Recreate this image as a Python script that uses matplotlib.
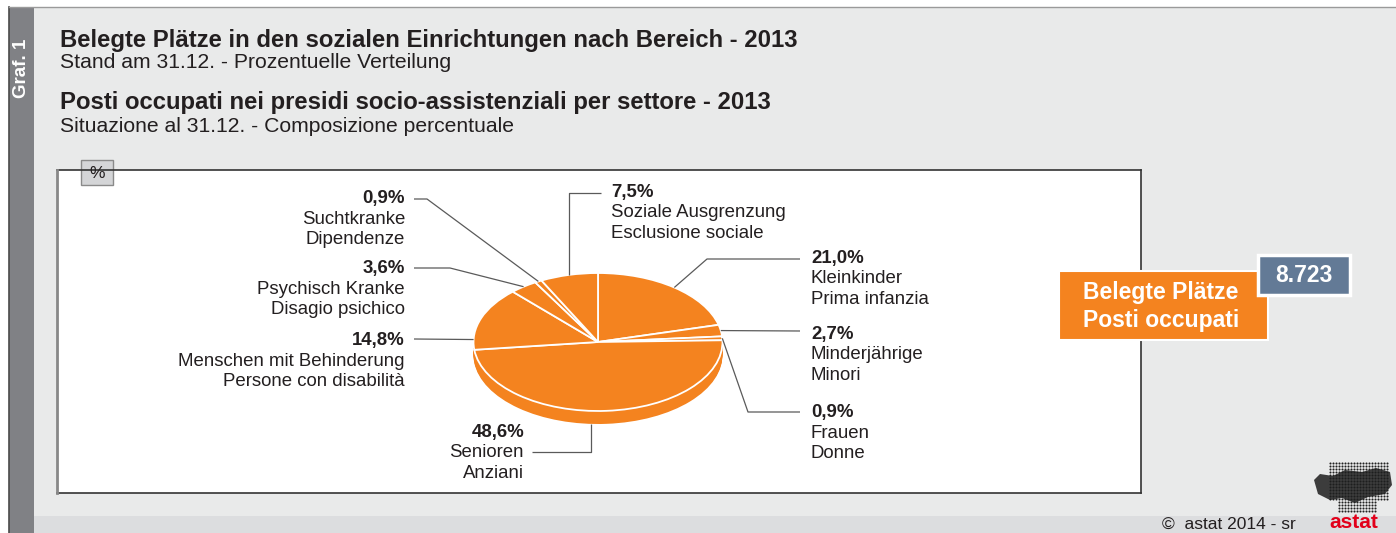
import numpy as np
import matplotlib
matplotlib.use('Agg')
import matplotlib.pyplot as plt
from matplotlib.patches import Rectangle, Polygon

plt.rcParams['font.family'] = ['Liberation Sans', 'DejaVu Sans']

# data
pct = [21.0, 2.7, 0.9, 48.6, 14.8, 3.6, 0.9, 7.5]
names_de = ['Kleinkinder', 'Minderjährige', 'Frauen', 'Senioren',
            'Menschen mit Behinderung', 'Psychisch Kranke', 'Suchtkranke',
            'Soziale Ausgrenzung']
names_it = ['Prima infanzia', 'Minori', 'Donne', 'Anziani',
            'Persone con disabilità', 'Disagio psichico', 'Dipendenze',
            'Esclusione sociale']
total_places = 8723

# layout (pixels, origin top left)
W, H = 1396, 533
cx, cy = 598, 342          # pie centre
ra, rb = 124.5, 69         # ellipse semi axes
depth = 13                 # pie thickness
ORANGE = '#F4831F'
TXT = '#231F20'
LEAD = '#5a5a5a'

# per label: text x, text y, alignment, elbow points, position inside wedge, from side bottom
lab_x = [811, 811, 811, 524, 405, 405, 405, 611]
lab_y = [258, 334, 413, 432, 341, 269, 199, 192]
lab_ha = ['left', 'left', 'left', 'right', 'right', 'right', 'right', 'left']
lab_path = [[(707, 259), (800, 259)],
            [(800, 331)],
            [(748, 412), (800, 412)],
            [(None, 452), (532, 452)],
            [(414, 339)],
            [(450, 268), (414, 268)],
            [(427, 199), (414, 199)],
            [(None, 193), (601, 193)]]
lab_frac = [0.5, 0.5, 0.5, 0.54, 0.16, 0.5, 0.5, 0.5]
lab_side = [False, False, False, True, False, False, False, False]

fig = plt.figure(figsize=(W / 100, H / 100), dpi=100)
fig.patch.set_facecolor('white')

bg = fig.add_axes([0, 0, 1, 1])
bg.set_xlim(0, W)
bg.set_ylim(H, 0)
bg.axis('off')

# frame and background
bg.add_patch(Rectangle((34, 7), W - 34, 509, fc='#E9EAEA', ec='none'))
bg.add_patch(Rectangle((34, 516), W - 34, 17, fc='#DCDDDF', ec='none'))
bg.add_patch(Rectangle((9, 7), 25, H - 7, fc='#808185', ec='none'))
bg.plot([9, 9], [7, H], color='#4a4a4a', lw=1.2)
bg.plot([9, W], [7, 7], color='#9a9a9a', lw=1)
bg.text(21, 68, 'Graf. 1', rotation=90, ha='center', va='center',
        color='white', fontsize=13.5, fontweight='bold')

# titles
bg.text(60, 40, 'Belegte Plätze in den sozialen Einrichtungen nach Bereich - 2013',
        fontsize=17.2, fontweight='bold', color=TXT, va='center')
bg.text(60, 63, 'Stand am 31.12. - Prozentuelle Verteilung',
        fontsize=15.2, color=TXT, va='center')
bg.text(60, 102, 'Posti occupati nei presidi socio-assistenziali per settore - 2013',
        fontsize=17.2, fontweight='bold', color=TXT, va='center')
bg.text(60, 127, 'Situazione al 31.12. - Composizione percentuale',
        fontsize=15.2, color=TXT, va='center')

# white chart panel
bg.add_patch(Rectangle((57, 170), 1084, 323, fc='white', ec='none'))
bg.plot([57, 1141], [170, 170], color='#333333', lw=1.2)
bg.plot([57, 1141], [493, 493], color='#333333', lw=1.2)
bg.plot([57, 57], [170, 493], color='#888888', lw=2)
bg.plot([1141, 1141], [170, 493], color='#333333', lw=1.2)
bg.add_patch(Rectangle((81, 160), 32, 25, fc='#D4D5D7', ec='#8a8a8a', lw=1))
bg.text(97, 173, '%', ha='center', va='center', fontsize=12.5, color=TXT)

# total boxes
bg.add_patch(Rectangle((1059, 271), 209, 69, fc=ORANGE, ec='white', lw=1.5, zorder=3))
bg.text(1161, 293, 'Belegte Plätze', ha='center', va='center', color='white',
        fontsize=16.5, fontweight='bold', zorder=4)
bg.text(1161, 321, 'Posti occupati', ha='center', va='center', color='white',
        fontsize=16.5, fontweight='bold', zorder=4)
bg.add_patch(Rectangle((1258, 255), 92, 40, fc='#637A96', ec='white', lw=2.5, zorder=5))
bg.text(1304, 275, f'{total_places:,}'.replace(',', '.'), ha='center', va='center',
        color='white', fontsize=16.5, fontweight='bold', zorder=6)

# footer
bg.text(1296, 524, '©  astat 2014 - sr', ha='right', va='center', fontsize=12.5, color=TXT)
bg.text(1354, 523, 'astat', ha='center', va='center', fontsize=15, fontweight='bold',
        color='#E2001A')
gx, gy = np.meshgrid(np.arange(1330, 1388, 3.0), np.arange(463, 512, 3.0))
gx, gy = gx.ravel(), gy.ravel()
inside = (gy < 473) | (gy > 500) & (gx > 1336) & (gx < 1378) | (gy >= 473) & (gy <= 500)
bg.scatter(gx[inside], gy[inside], s=2.2, color='#222222', lw=0)
bg.add_patch(Polygon([(1314, 480), (1320, 474), (1333, 476), (1345, 470), (1362, 472),
                      (1376, 468), (1390, 472), (1392, 485), (1385, 494), (1368, 497),
                      (1355, 503), (1342, 498), (1330, 500), (1318, 494)],
                     fc='#1e1e1e', ec='none', alpha=0.85))

# pie (pie units: 1 = semi axis)
pax = fig.add_axes([0, 0, 1, 1])
pax.patch.set_alpha(0)
d = depth / rb
for k in np.linspace(d, 0.0, 14):
    pax.pie(pct, startangle=90, counterclock=False, colors=[ORANGE] * len(pct),
            center=(0, -k), wedgeprops=dict(edgecolor='none', linewidth=0))
pax.pie(pct, startangle=90, counterclock=False, colors=[ORANGE] * len(pct),
        wedgeprops=dict(edgecolor='white', linewidth=1.3))
pax.set_aspect('auto')
pax.set_xlim((0 - cx) / ra, (W - cx) / ra)
pax.set_ylim((cy - H) / rb, cy / rb)
pax.axis('off')


def to_pie(x, y):
    return (x - cx) / ra, (cy - y) / rb


cum = np.concatenate([[0], np.cumsum(pct)]) / sum(pct)
for i in range(len(pct)):
    f = cum[i] + lab_frac[i] * (cum[i + 1] - cum[i])
    th = np.deg2rad(90 - 360 * f)
    sx, sy = np.cos(th), np.sin(th) - (d if lab_side[i] else 0)
    xs, ys = [sx], [sy]
    for px, py in lab_path[i]:
        ex, ey = to_pie(px if px is not None else 0, py)
        if px is None:
            ex = sx
        xs.append(ex)
        ys.append(ey)
    pax.plot(xs, ys, color=LEAD, lw=0.9, solid_capstyle='butt')

    p = f'{pct[i]:.1f}%'.replace('.', ',')
    bg.text(lab_x[i], lab_y[i], p, ha=lab_ha[i], va='center', fontsize=13.4,
            fontweight='bold', color=TXT)
    bg.text(lab_x[i], lab_y[i] + 20.5, names_de[i], ha=lab_ha[i], va='center',
            fontsize=13.4, color=TXT)
    bg.text(lab_x[i], lab_y[i] + 41, names_it[i], ha=lab_ha[i], va='center',
            fontsize=13.4, color=TXT)

plt.savefig('out.png', dpi=100)
